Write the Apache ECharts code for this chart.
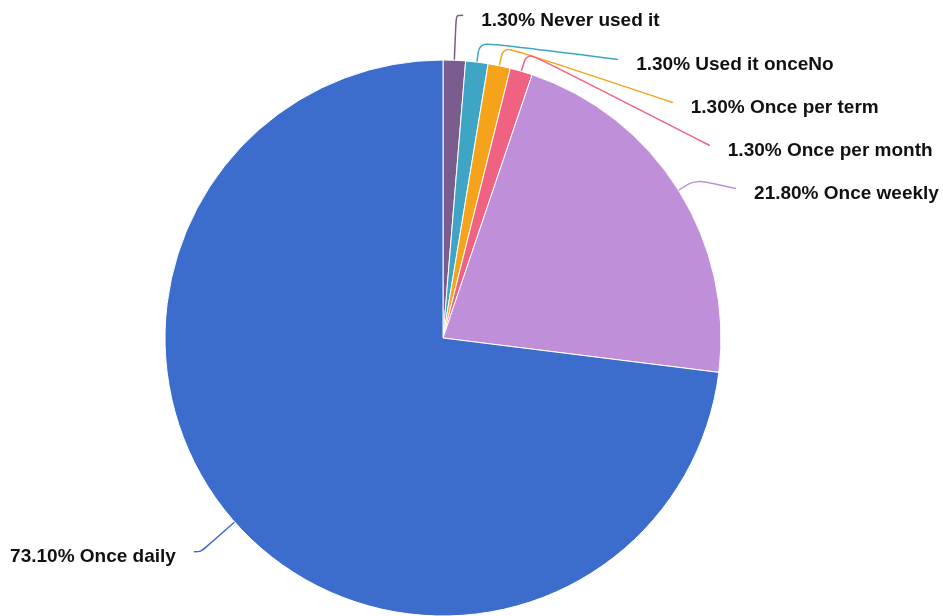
<!DOCTYPE html>
<html>
<head>
<meta charset="utf-8">
<script src="https://cdn.jsdelivr.net/npm/echarts@6/dist/echarts.min.js"></script>
<style>html,body{margin:0;padding:0;background:#fff;}#c{width:943px;height:616px;}</style>
</head>
<body>
<div id="c"></div>
<script>
const categories = ['Never used it', 'Used it onceNo', 'Once per term', 'Once per month', 'Once weekly', 'Once daily'];
const values = [1.3, 1.3, 1.3, 1.3, 21.8, 73.1];
const colors = ['#7b5c8e', '#3fa5c4', '#f5a31a', '#ef6282', '#bf8fda', '#3c6dcd'];

const CX = 443, CY = 338, R = 278, LEN = 45, LEN2 = 7, ELBOW = 20, RE = 329, GAP = 18, DROP = 5;

const chart = echarts.init(document.getElementById('c'));
chart.setOption({
  animation: false,
  series: [{
    type: 'pie',
    center: [CX, CY],
    radius: [0, R],
    startAngle: 90,
    data: categories.map((c, i) => ({ name: c, value: values[i], itemStyle: { color: colors[i] } })),
    itemStyle: { borderColor: '#fff', borderWidth: 1 },
    label: {
      formatter: p => p.value.toFixed(2) + '% ' + p.name,
      fontFamily: 'Liberation Sans, Arial, sans-serif',
      fontWeight: 'bold',
      fontSize: 19,
      lineHeight: 41,
      color: '#111'
    },
    labelLine: { smooth: true, length: LEN, length2: LEN2, lineStyle: { width: 1.5 } },
    labelLayout: function (params) {
      const pts = params.labelLinePoints;
      const rect = params.labelRect;
      if (!pts || !rect) return {};
      const p0 = pts[0];
      const vx = p0[0] - CX, vy = p0[1] - CY;
      const d = Math.sqrt(vx * vx + vy * vy);
      const ux = vx / d, uy = vy / d;
      const dir = ux >= 0 ? 1 : -1;
      const ay = rect.y + rect.height / 2;
      const E = [CX + (R + LEN) * ux, CY + (R + LEN) * uy];
      let elbow, end;
      if (Math.abs(ay - E[1]) < 8) {
        elbow = E;
        end = [E[0] + LEN2 * dir, E[1]];
      } else {
        elbow = [CX + (R + ELBOW) * ux, CY + (R + ELBOW) * uy];
        const ey = ay - DROP;
        const dy = ey - CY;
        end = [CX + dir * Math.sqrt(Math.max(0, RE * RE - dy * dy)), ey];
      }
      return {
        x: end[0] + GAP * dir,
        y: end[1] + DROP,
        align: dir > 0 ? 'left' : 'right',
        verticalAlign: 'middle',
        labelLinePoints: [p0, elbow, end]
      };
    }
  }]
});
</script>
</body>
</html>
